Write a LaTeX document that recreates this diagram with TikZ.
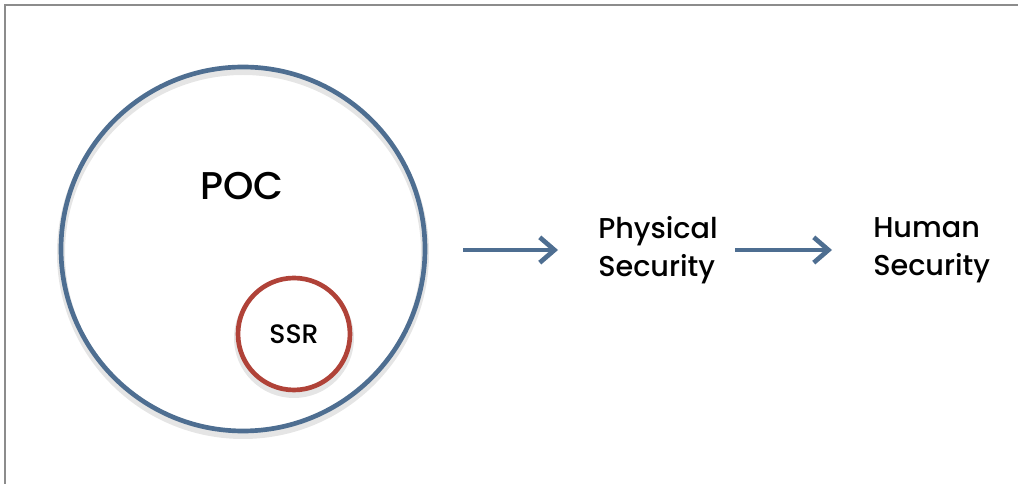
\documentclass[tikz,border=0pt]{standalone}
\usepackage{fontspec}
\setmainfont{Poppins}[UprightFont=* Medium]
\usetikzlibrary{arrows.meta}
\definecolor{ringblue}{RGB}{78,110,145}
\definecolor{ringred}{RGB}{176,66,56}
\definecolor{framegray}{RGB}{140,140,140}

\begin{document}
\begin{tikzpicture}[x=0.75pt, y=-0.75pt,
		ring/.style = {circle, draw=#1, line width=3.5pt, inner sep=0pt},
		ringshadow/.style = {circle, draw=black, draw opacity=0.10, line width=6pt, inner sep=0pt},
		label text/.style = {align=left, font=\fontsize{21.5}{28.5}\selectfont, inner sep=0pt},
		flow/.style = {ringblue, line width=3.5pt, -{Straight Barb[length=11pt, width=19pt]}}]
		\useasboundingbox (0,0) rectangle (1018,484);
		\draw[framegray, line width=1.5pt] (5,484) -- (5,5) -- (1018,5);
		
		\node[ringshadow, minimum size=273pt] (pocshadow) at (243,253) {};
		\node[ring=ringblue, minimum size=273pt] (poc) at (243,249) {};
		\node[font=\fontsize{29}{36}\selectfont, inner sep=0pt] (poclabel) at (242,186) {POC};
		\node[ringshadow, minimum size=84pt] (ssrshadow) at (294,338) {};
		\node[ring=ringred, fill=white, minimum size=84pt, font=\fontsize{20}{22}\selectfont] (ssr) at (294,334) {SSR};
		
		\node[label text, anchor=west] (phys) at (598,250) {Physical\\Security};
		\node[label text, anchor=west] (human) at (873,250) {Human\\Security};
		
		\draw[flow, shorten <=27pt, shorten >=30pt] (phys.west -| poc.east) -- (phys.west);
		\draw[flow, shorten <=13pt, shorten >=30.75pt] (phys.east) -- (human.west);
	\end{tikzpicture}
\end{document}
